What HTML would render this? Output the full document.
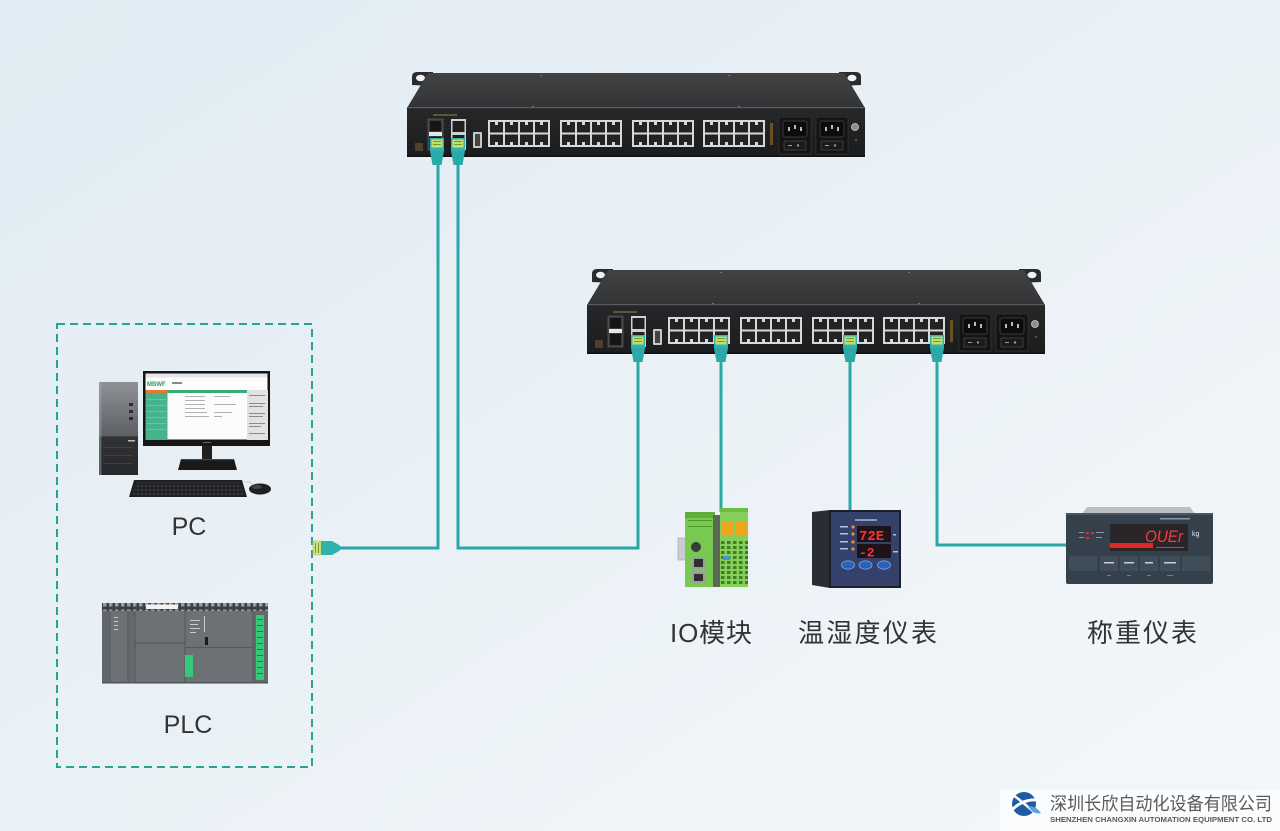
<!DOCTYPE html>
<html><head><meta charset="utf-8"><style>
html,body{margin:0;padding:0;width:1280px;height:831px;overflow:hidden;background:#e8f0f6}
svg{display:block}
</style></head><body>
<svg width="1280" height="831" viewBox="0 0 1280 831" xmlns="http://www.w3.org/2000/svg">
<defs>
<linearGradient id="bg" x1="0" y1="0" x2="1" y2="1">
<stop offset="0" stop-color="#e0ebf3"/><stop offset="0.5" stop-color="#eaf1f6"/><stop offset="1" stop-color="#f3f7fa"/>
</linearGradient>
<linearGradient id="gTop" x1="0" y1="0" x2="0" y2="1">
<stop offset="0" stop-color="#414244"/><stop offset="1" stop-color="#333436"/>
</linearGradient>
<linearGradient id="gFront" x1="0" y1="0" x2="0" y2="1">
<stop offset="0" stop-color="#262729"/><stop offset="1" stop-color="#1b1c1e"/>
</linearGradient>
<linearGradient id="gTower" x1="0" y1="0" x2="0" y2="1">
<stop offset="0" stop-color="#8e9297"/><stop offset="0.58" stop-color="#5c6065"/>
<stop offset="0.59" stop-color="#303235"/><stop offset="1" stop-color="#26282b"/>
</linearGradient>
<pattern id="keys" width="4" height="4" patternUnits="userSpaceOnUse">
<rect width="4" height="4" fill="#1a1b1d"/><rect x="0.6" y="0.6" width="2.8" height="2.8" fill="#333538"/>
</pattern>
<pattern id="vent" width="6" height="8" patternUnits="userSpaceOnUse">
<rect width="6" height="8" fill="#3c4044"/><rect x="1" y="1.5" width="3.5" height="5" fill="#9a9ea2"/>
</pattern>
<pattern id="term" width="6" height="5" patternUnits="userSpaceOnUse">
<rect width="6" height="5" fill="#86d05a"/><rect x="1" y="1" width="3.5" height="3" fill="#3f7d2a"/>
</pattern>
<g id="pg">
<rect width="62" height="27" fill="#d6d8da"/>
<rect x="2" y="2" width="13" height="10.5" fill="#222325"/><rect x="17" y="2" width="13" height="10.5" fill="#222325"/>
<rect x="32" y="2" width="13" height="10.5" fill="#222325"/><rect x="47" y="2" width="13" height="10.5" fill="#222325"/>
<rect x="2" y="14.5" width="13" height="10.5" fill="#222325"/><rect x="17" y="14.5" width="13" height="10.5" fill="#222325"/>
<rect x="32" y="14.5" width="13" height="10.5" fill="#222325"/><rect x="47" y="14.5" width="13" height="10.5" fill="#222325"/>
<rect x="7" y="2" width="3" height="3" fill="#d6d8da"/><rect x="22" y="2" width="3" height="3" fill="#d6d8da"/>
<rect x="37" y="2" width="3" height="3" fill="#d6d8da"/><rect x="52" y="2" width="3" height="3" fill="#d6d8da"/>
<rect x="7" y="22" width="3" height="3" fill="#d6d8da"/><rect x="22" y="22" width="3" height="3" fill="#d6d8da"/>
<rect x="37" y="22" width="3" height="3" fill="#d6d8da"/><rect x="52" y="22" width="3" height="3" fill="#d6d8da"/>
</g>
<g id="sw">
<path d="M412,85 V77 Q412,72 417,72 H433 V86 Z" fill="#2b2b2d"/>
<ellipse cx="420.5" cy="78" rx="4.5" ry="3.2" fill="#eef3f7"/>
<path d="M839,72 H856 Q861,72 861,77 V85 L839,86 Z" fill="#2b2b2d"/>
<ellipse cx="852" cy="78" rx="4.5" ry="3.2" fill="#eef3f7"/>
<polygon points="428,73 844,73 865,108 407,108" fill="url(#gTop)"/>
<rect x="540" y="75" width="2" height="1" fill="#777"/><rect x="728" y="75" width="2" height="1" fill="#777"/>
<rect x="532" y="106" width="2" height="1" fill="#777"/><rect x="738" y="106" width="2" height="1" fill="#777"/>
<rect x="407" y="107" width="458" height="50" fill="url(#gFront)"/>
<rect x="407" y="107" width="458" height="1.2" fill="#5a5c5f"/>
<rect x="407" y="155.5" width="458" height="1.5" fill="#111"/>
<use href="#pg" x="488" y="120"/><use href="#pg" x="560" y="120"/>
<use href="#pg" x="632" y="120"/><use href="#pg" x="703" y="120"/>
<rect x="428" y="119" width="15" height="31" fill="#3a3b3d" stroke="#6a6b6d" stroke-width="0.6"/>
<rect x="430" y="121" width="11" height="10" fill="#151515"/><rect x="430" y="137" width="11" height="11" fill="#151515"/>
<rect x="429" y="132" width="13" height="4" fill="#e6e6e6"/>
<rect x="451" y="119" width="15" height="31" fill="#cfd1d3"/>
<rect x="452.5" y="121" width="12" height="11" fill="#202020"/><rect x="452.5" y="135" width="12" height="12" fill="#202020"/>
<rect x="473" y="132" width="9" height="16" rx="1" fill="#c8c8c8"/><rect x="475" y="134" width="5" height="12" fill="#444"/>
<rect x="433" y="114" width="24" height="2" fill="#7a6a3a" opacity=".7"/>
<rect x="415" y="143" width="8" height="8" fill="#6a5a30" opacity=".6"/>
<rect x="770" y="123" width="3" height="22" fill="#7a5c28" opacity=".8"/>
<rect x="779" y="117" width="32" height="37" fill="#141414" stroke="#2e2e2e"/>
<rect x="783" y="121" width="24" height="16" rx="2" fill="#0c0c0c" stroke="#3a3a3a"/>
<rect x="788" y="127" width="2" height="4" fill="#bbb"/><rect x="794" y="125" width="2" height="4" fill="#bbb"/><rect x="800" y="127" width="2" height="4" fill="#bbb"/>
<rect x="784" y="141" width="22" height="9" fill="#1b1b1b" stroke="#555" stroke-width="0.6"/>
<rect x="788" y="145" width="4" height="1" fill="#999"/><circle cx="798" cy="145.5" r="1.2" fill="#999"/>
<rect x="816" y="117" width="32" height="37" fill="#141414" stroke="#2e2e2e"/>
<rect x="820" y="121" width="24" height="16" rx="2" fill="#0c0c0c" stroke="#3a3a3a"/>
<rect x="825" y="127" width="2" height="4" fill="#bbb"/><rect x="831" y="125" width="2" height="4" fill="#bbb"/><rect x="837" y="127" width="2" height="4" fill="#bbb"/>
<rect x="821" y="141" width="22" height="9" fill="#1b1b1b" stroke="#555" stroke-width="0.6"/>
<rect x="825" y="145" width="4" height="1" fill="#999"/><circle cx="835" cy="145.5" r="1.2" fill="#999"/>
<circle cx="855" cy="127" r="3.5" fill="#8d8d8d" stroke="#cfcfcf" stroke-width="0.8"/>
<circle cx="856" cy="140" r="1.2" fill="#8a3a2a"/>
</g>
<g id="plug">
<rect x="-7" y="0" width="14" height="13" fill="#2fb3ae"/>
<rect x="-5.5" y="1.5" width="11" height="8" fill="#c6df6c"/>
<rect x="-4" y="3" width="8" height="1" fill="#6f9a3a"/><rect x="-4" y="6" width="8" height="1" fill="#6f9a3a"/>
<path d="M-7,13 H7 L4.5,27 H-4.5 Z" fill="#2aa9a6"/>
</g>
</defs>

<rect width="1280" height="831" fill="url(#bg)"/>

<!-- dashed group -->
<rect x="57" y="324" width="255" height="443" fill="none" stroke="#27a396" stroke-width="2" stroke-dasharray="8 5"/>

<!-- cables -->
<g fill="none" stroke="#2aa8a6" stroke-width="3" stroke-linejoin="miter">
<path d="M338,548 H438 V160"/>
<path d="M458,160 V548 H638 V360"/>
<path d="M721,360 V512"/>
<path d="M850,360 V512"/>
<path d="M937,360 V545 H1068"/>
</g>

<!-- switches -->
<use href="#sw"/>
<use href="#sw" transform="translate(180,197)"/>

<!-- plugs -->
<use href="#plug" transform="translate(437,138)"/>
<use href="#plug" transform="translate(458,138)"/>
<use href="#plug" transform="translate(638,335)"/>
<use href="#plug" transform="translate(721,335)"/>
<use href="#plug" transform="translate(850,335)"/>
<use href="#plug" transform="translate(937,335)"/>

<!-- left connector -->
<rect x="313" y="541" width="8" height="14" fill="#d2df78" stroke="#b8c660" stroke-width="0.6"/>
<rect x="315" y="543" width="1" height="10" fill="#7a9a3a"/><rect x="318" y="543" width="1" height="10" fill="#7a9a3a"/>
<path d="M321,541 H332 L340,545.5 V550.5 L332,555 H321 Z" fill="#2fb2ae"/>

<!-- PC -->
<rect x="99" y="382" width="39" height="93" fill="url(#gTower)"/>
<rect x="99" y="382" width="2.5" height="93" fill="#a4a8ac" opacity=".45"/>
<rect x="129" y="403" width="4" height="3" fill="#2c2c2e"/><rect x="129" y="410" width="4" height="3" fill="#2c2c2e"/>
<rect x="129" y="417" width="4" height="3" fill="#2c2c2e"/>
<rect x="128" y="440" width="7" height="1.5" fill="#bbb"/>
<rect x="103" y="447" width="30" height="1" fill="#3e4043"/><rect x="103" y="455" width="30" height="1" fill="#3e4043"/>
<rect x="103" y="463" width="30" height="1" fill="#3e4043"/>
<rect x="143" y="371" width="127" height="75" fill="#161616"/>
<rect x="145.5" y="373.5" width="122" height="66" fill="#fcfcfc"/>
<rect x="145.5" y="373.5" width="122" height="4" fill="#e6e6e6"/>
<text x="147" y="386" font-family="Liberation Sans, sans-serif" font-size="6" font-weight="bold" fill="#2e9a5a">MBWF</text>
<rect x="172" y="382" width="10" height="2" fill="#888"/>
<rect x="145.5" y="390" width="102" height="3" fill="#3aaa7a"/>
<rect x="145.5" y="390" width="22" height="3" fill="#e8792c"/>
<rect x="145.5" y="393" width="22" height="47" fill="#45b48c"/>
<g fill="#7fd0b0"><rect x="146" y="399" width="20" height="0.6"/><rect x="146" y="405" width="20" height="0.6"/><rect x="146" y="411" width="20" height="0.6"/><rect x="146" y="417" width="20" height="0.6"/><rect x="146" y="423" width="20" height="0.6"/><rect x="146" y="429" width="20" height="0.6"/></g>
<g fill="#b0b0b0"><rect x="185" y="396" width="20" height="1"/><rect x="214" y="396" width="16" height="1"/><rect x="185" y="400" width="20" height="1"/><rect x="185" y="404" width="20" height="1"/><rect x="214" y="404" width="22" height="1"/><rect x="185" y="408" width="20" height="1"/><rect x="185" y="412" width="22" height="1"/><rect x="214" y="412" width="18" height="1"/><rect x="185" y="416" width="24" height="1"/><rect x="214" y="416" width="8" height="1"/></g>
<rect x="247" y="390" width="21" height="50" fill="#e2e2e2"/>
<g fill="#8a8a8a"><rect x="249" y="395" width="16" height="1"/><rect x="249" y="403" width="16" height="1"/><rect x="249" y="406" width="14" height="1"/><rect x="249" y="413" width="16" height="1"/><rect x="249" y="416" width="14" height="1"/><rect x="249" y="423" width="16" height="1"/><rect x="249" y="426" width="12" height="1"/><rect x="249" y="433" width="16" height="1"/></g>
<rect x="203" y="442" width="8" height="1" fill="#666"/>
<rect x="202" y="446" width="10" height="15" fill="#1f1f1f"/>
<polygon points="181,459 234,459 237,470 178,470" fill="#1a1a1a"/>
<rect x="181" y="459" width="53" height="1.2" fill="#444"/>
<polygon points="134,480 242,480 247,497 129,497" fill="#1e1f21"/>
<polygon points="136,482 240,482 244,495 132,495" fill="url(#keys)"/>
<path d="M244,482 Q252,481 253,486" fill="none" stroke="#bfc3c6" stroke-width="0.8"/>
<ellipse cx="260" cy="489" rx="11" ry="5.5" fill="#1f2022"/>
<ellipse cx="257" cy="487" rx="5" ry="2" fill="#5a5c5f" opacity=".6"/>

<!-- PLC -->
<rect x="102" y="603" width="166" height="80" fill="#6c7176"/>
<rect x="102" y="603" width="166" height="8" fill="url(#vent)"/>
<rect x="146" y="604.5" width="32" height="4.5" fill="#f2f2f2"/>
<rect x="102" y="611" width="8" height="72" fill="#61666b"/>
<rect x="128" y="611" width="7" height="72" fill="#64696e"/>
<rect x="253" y="611" width="15" height="72" fill="#63686d"/>
<g fill="#54585c"><rect x="109.5" y="611" width="1" height="72"/><rect x="127.5" y="611" width="1" height="72"/><rect x="134.5" y="611" width="1" height="72"/><rect x="184.5" y="611" width="1" height="72"/><rect x="252.5" y="611" width="1" height="72"/><rect x="135" y="642.5" width="50" height="1"/><rect x="185" y="647" width="68" height="1"/></g>
<g fill="#c8cacc"><rect x="114" y="617" width="4" height="1"/><rect x="114" y="621" width="4" height="1"/><rect x="114" y="625" width="4" height="1"/><rect x="114" y="629" width="4" height="1"/><rect x="190" y="620" width="10" height="1"/><rect x="190" y="624" width="8" height="1"/><rect x="190" y="628" width="10" height="1"/><rect x="190" y="632" width="6" height="1"/><rect x="204" y="616" width="1" height="16"/></g>
<rect x="205" y="637" width="3" height="8" fill="#1a1a1a"/>
<rect x="185" y="655" width="8" height="22" fill="#36c879"/>
<rect x="256" y="615" width="8" height="65" fill="#36c879"/>
<g fill="#1c7a48"><rect x="257" y="619" width="6" height="1"/><rect x="257" y="625" width="6" height="1"/><rect x="257" y="631" width="6" height="1"/><rect x="257" y="637" width="6" height="1"/><rect x="257" y="643" width="6" height="1"/><rect x="257" y="649" width="6" height="1"/><rect x="257" y="655" width="6" height="1"/><rect x="257" y="661" width="6" height="1"/><rect x="257" y="667" width="6" height="1"/><rect x="257" y="673" width="6" height="1"/></g>
<rect x="102" y="682" width="166" height="1.5" fill="#4f5357"/>

<!-- IO module -->
<rect x="678" y="538" width="8" height="22" fill="#c9cdd1" stroke="#9aa0a5" stroke-width="0.6"/>
<rect x="685" y="512" width="30" height="75" fill="#78c94f"/>
<rect x="685" y="512" width="30" height="6" fill="#5fae3c"/>
<rect x="688" y="520" width="24" height="1" fill="#4f9a30"/><rect x="688" y="526" width="24" height="1" fill="#4f9a30"/>
<circle cx="696" cy="547" r="5" fill="#3a3c3a"/>
<rect x="692" y="557" width="13" height="12" fill="#9aa0a0"/><rect x="694" y="559" width="9" height="8" fill="#2e2e2e"/>
<rect x="692" y="572" width="13" height="11" fill="#9aa0a0"/><rect x="694" y="574" width="9" height="7" fill="#2e2e2e"/>
<rect x="713" y="515" width="8" height="72" fill="#5a6a55"/>
<rect x="720" y="508" width="28" height="79" fill="#86d05a"/>
<rect x="720" y="508" width="28" height="4" fill="#6cbc40"/>
<g fill="#f0a51e"><rect x="721" y="522" width="6" height="13"/><rect x="728" y="522" width="6" height="13"/><rect x="735" y="522" width="6" height="13"/><rect x="742" y="522" width="5" height="13"/></g>
<rect x="721" y="540" width="27" height="45" fill="url(#term)"/>
<rect x="723" y="556" width="7" height="4" fill="#3a9ad0"/>

<!-- temp meter -->
<polygon points="812,512 830,510 830,588 812,585" fill="#2a2d33"/>
<rect x="829" y="510" width="72" height="78" fill="#1c1f2a"/>
<rect x="831" y="512" width="68" height="74" fill="#34416a"/>
<rect x="855" y="519" width="22" height="2" fill="#8f9ab8"/>
<g fill="#b8c0d8"><rect x="840" y="526" width="8" height="1.5"/><rect x="840" y="533" width="8" height="1.5"/><rect x="840" y="541" width="8" height="1.5"/><rect x="840" y="548" width="8" height="1.5"/></g>
<g fill="#ff8a1e"><circle cx="853" cy="527" r="1.6"/><circle cx="853" cy="534" r="1.6"/><circle cx="853" cy="542" r="1.6"/><circle cx="853" cy="549" r="1.6"/></g>
<rect x="857" y="526" width="34" height="16" fill="#1e1318"/>
<text x="859" y="540" font-family="Liberation Mono, monospace" font-size="14" font-weight="bold" fill="#ff3232">72E</text>
<rect x="857" y="544" width="34" height="14" fill="#1e1318"/>
<text x="859" y="556.5" font-family="Liberation Mono, monospace" font-size="13" font-weight="bold" fill="#ff3232">-2</text>
<rect x="893" y="534" width="3" height="1.5" fill="#b8c0d8"/><rect x="893" y="551" width="5" height="1.5" fill="#b8c0d8"/>
<g fill="#2a62ba" stroke="#7aa8e8" stroke-width="0.8"><ellipse cx="848" cy="565" rx="6.5" ry="4.2"/><ellipse cx="865.5" cy="565" rx="6.5" ry="4.2"/><ellipse cx="884" cy="565" rx="6.5" ry="4.2"/></g>

<!-- weighing meter -->
<polygon points="1087,507 1190,507 1195,514 1082,514" fill="#b9bec3"/>
<rect x="1066" y="513" width="147" height="71" rx="2" fill="#34414c"/>
<rect x="1066" y="513" width="147" height="2" fill="#4a5763"/>
<rect x="1160" y="518" width="30" height="1.5" fill="#8a96a2"/>
<rect x="1110" y="524" width="78" height="27" fill="#2a2528"/>
<text x="1145" y="542" font-family="Liberation Sans, sans-serif" font-size="17" font-style="italic" fill="#ff3a3a" textLength="38" lengthAdjust="spacingAndGlyphs">OUEr</text>
<rect x="1110" y="543" width="43" height="5" fill="#e02828"/>
<rect x="1156" y="547" width="28" height="1" fill="#6a6a6a"/>
<text x="1192" y="536" font-family="Liberation Sans, sans-serif" font-size="7" fill="#e8e8e8">kg</text>
<g fill="#d83030"><rect x="1086" y="532" width="3" height="2"/><rect x="1091" y="532" width="3" height="2"/><rect x="1086" y="537" width="3" height="2"/></g>
<g fill="#8a96a2"><rect x="1096" y="532" width="8" height="1"/><rect x="1096" y="537" width="6" height="1"/><rect x="1079" y="532" width="5" height="1"/><rect x="1079" y="537" width="5" height="1"/></g>
<g fill="#3f4d59"><rect x="1069" y="556" width="28" height="15"/><rect x="1100" y="556" width="18" height="15"/><rect x="1120" y="556" width="18" height="15"/><rect x="1140" y="556" width="18" height="15"/><rect x="1160" y="556" width="20" height="15"/><rect x="1182" y="556" width="28" height="15"/></g>
<g fill="#c8d0d8"><rect x="1104" y="562" width="10" height="1.5"/><rect x="1124" y="562" width="10" height="1.5"/><rect x="1145" y="562" width="8" height="1.5"/><rect x="1164" y="562" width="12" height="1.5"/></g>
<g fill="#6f7c88"><rect x="1107" y="575" width="4" height="1"/><rect x="1127" y="575" width="4" height="1"/><rect x="1147" y="575" width="4" height="1"/><rect x="1167" y="575" width="6" height="1"/></g>

<!-- labels -->
<g font-family="Liberation Sans, 'Noto Sans CJK SC', sans-serif" fill="#333333">
<text x="189" y="535" font-size="25" text-anchor="middle">PC</text>
<text x="188" y="733" font-size="25" text-anchor="middle">PLC</text>
<text x="670" y="642" font-size="26" textLength="82" lengthAdjust="spacing">IO模块</text>
<text x="798" y="642" font-size="26" textLength="139" lengthAdjust="spacing">温湿度仪表</text>
<text x="1087" y="642" font-size="26" textLength="110" lengthAdjust="spacing">称重仪表</text>
</g>

<!-- logo -->
<rect x="1000" y="790" width="280" height="41" fill="#fbfcfd"/>
<circle cx="1024" cy="804" r="12" fill="#1f5aa4"/>
<path d="M1010,812 Q1022,798 1040,800" fill="none" stroke="#fbfcfd" stroke-width="3"/>
<path d="M1013,795 Q1024,803 1036,814" fill="none" stroke="#fbfcfd" stroke-width="2.5"/>
<path d="M1028,806 Q1036,806 1041,813 Q1033,815 1028,806 Z" fill="#5aa2de"/>
<text x="1050" y="810" font-family="'Noto Sans CJK SC', 'WenQuanYi Zen Hei', sans-serif" font-size="18" fill="#5a5a5a" textLength="222" lengthAdjust="spacingAndGlyphs">深圳长欣自动化设备有限公司</text>
<text x="1050" y="822" font-family="Liberation Sans, sans-serif" font-size="7.5" font-weight="bold" fill="#5a5a5a" textLength="222" lengthAdjust="spacingAndGlyphs">SHENZHEN CHANGXIN AUTOMATION EQUIPMENT CO. LTD</text>
</svg>
</body></html>
